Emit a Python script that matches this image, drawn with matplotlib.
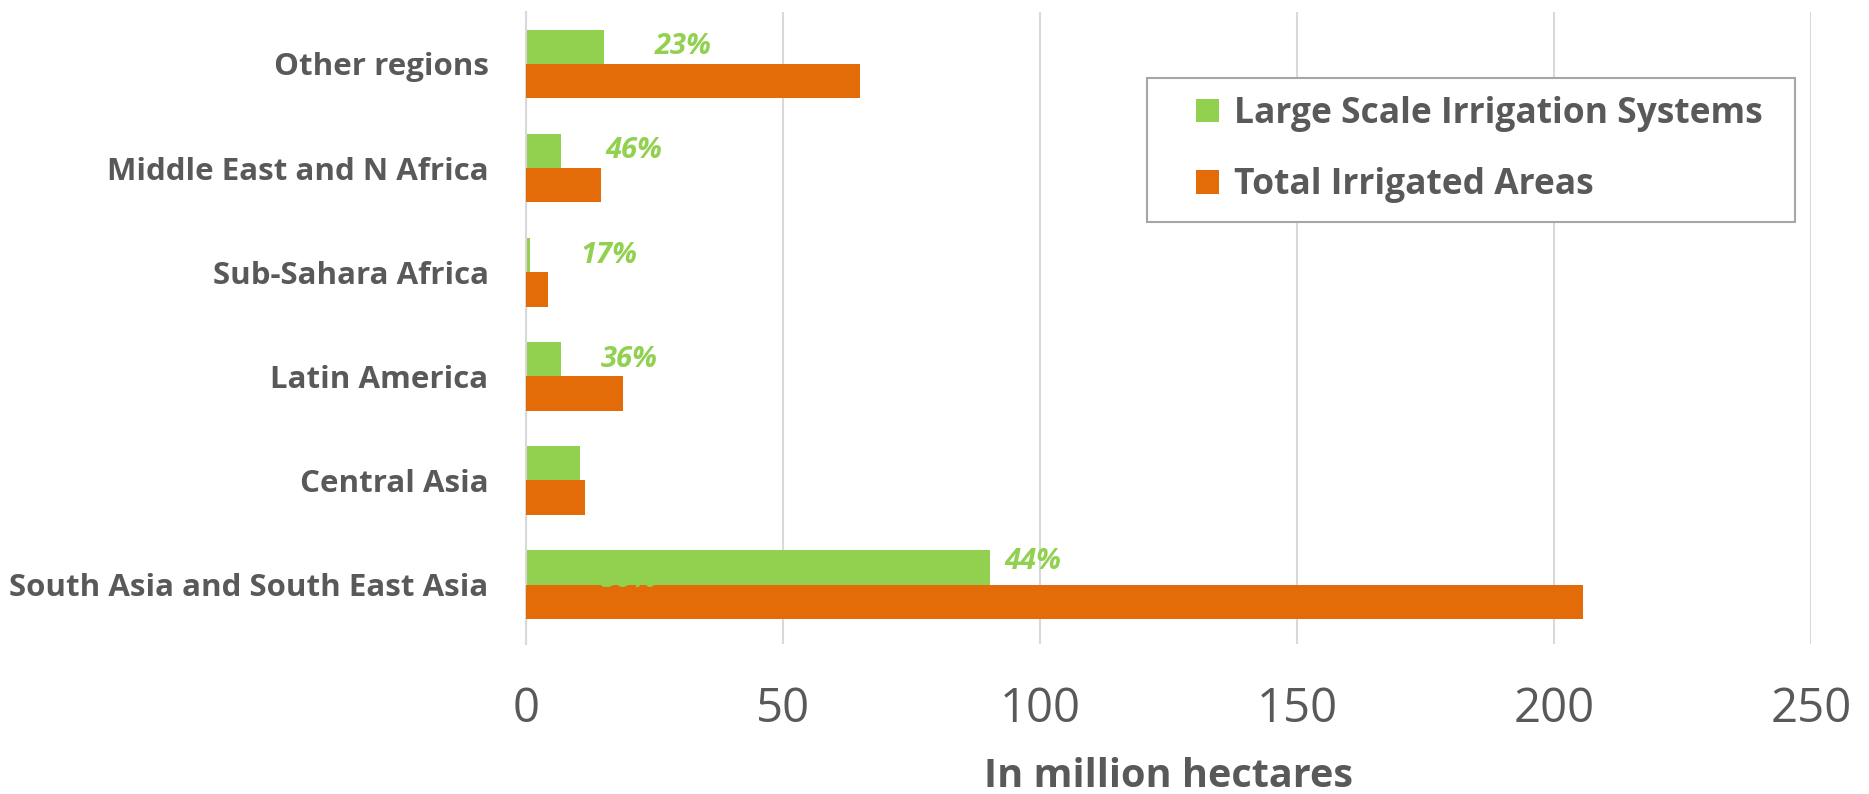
import matplotlib.pyplot as plt
from matplotlib.patches import Rectangle
import numpy as np

regions = ["South Asia and South East Asia", "Central Asia", "Latin America",
           "Sub-Sahara Africa", "Middle East and N Africa", "Other regions"]
large_scale = [90.2, 10.4, 6.7, 0.7, 6.7, 15.1]
total_irrigated = [205.7, 11.4, 18.8, 4.2, 14.6, 65.0]
# share of large scale systems, written next to the green bars (none for Central Asia)
share_labels = ["44%", None, "36%", "17%", "46%", "23%"]
share_label_x = [98.5, None, 20.0, 16.0, 21.0, 30.5]
hidden_label = "30%"

green = "#92D050"
orange = "#E36C09"
grey = "#595959"

plt.rcParams["font.family"] = ["Open Sans", "DejaVu Sans"]

fig = plt.figure(figsize=(18.69, 7.94), dpi=100)
ax = fig.add_axes([0.2815, 0.189, 0.969 - 0.2815, 0.796])

y = np.arange(len(regions))
h = 0.33
ax.barh(y + h / 2, large_scale, height=h, color=green, zorder=2,
        label="Large Scale Irrigation Systems")
ax.barh(y - h / 2, total_irrigated, height=h, color=orange, zorder=4,
        label="Total Irrigated Areas")

lab_kw = dict(color=green, fontsize=21, fontweight="bold", style="italic", ha="center")
for i, (lab, lx) in enumerate(zip(share_labels, share_label_x)):
    if lab is None:
        continue
    dy = 0.06 if i == 0 else 0.0
    ax.text(lx, y[i] + h / 2 + dy, lab, zorder=5, va="center", **lab_kw)
# green label lost inside the green South Asia bar, only its bottom edge shows
ax.text(20.0, y[0] - 0.02, hidden_label, zorder=5, va="baseline", **lab_kw)

ax.set_xlim(0, 250)
ax.set_ylim(-0.57, 5.5)
ax.set_xticks([0, 50, 100, 150, 200, 250])
ax.set_yticks(y)
ax.set_yticklabels(regions, fontsize=22.5, fontweight="bold", color=grey)
ax.tick_params(axis="x", labelsize=34, colors=grey, length=0, pad=30)
ax.tick_params(axis="y", length=0, pad=27)
ax.grid(axis="x", color="#D9D9D9", linewidth=1.5, zorder=0)
ax.set_axisbelow(True)
for s in ["top", "right", "bottom"]:
    ax.spines[s].set_visible(False)
ax.spines["left"].set_color("#D9D9D9")
ax.spines["left"].set_linewidth(1.5)

ax.set_xlabel("In million hectares", fontsize=28.5, fontweight="bold", color=grey, labelpad=17)

# legend frame drawn separately so the entries can sit indented inside it
frame = Rectangle((0.4833, 0.668), 0.504, 0.228, transform=ax.transAxes,
                  facecolor="white", edgecolor="#A6A6A6", linewidth=1.5, zorder=6)
ax.add_patch(frame)
leg = ax.legend(loc="center left", bbox_to_anchor=(0.5214, 0.782),
                fontsize=25.5, frameon=False, borderpad=0, borderaxespad=0,
                handlelength=0.65, handleheight=0.65, handletextpad=0.42,
                labelspacing=1.0)
leg.set_zorder(7)
for t in leg.get_texts():
    t.set_color(grey)
    t.set_fontweight("bold")

fig.savefig("out.png", dpi=100)
